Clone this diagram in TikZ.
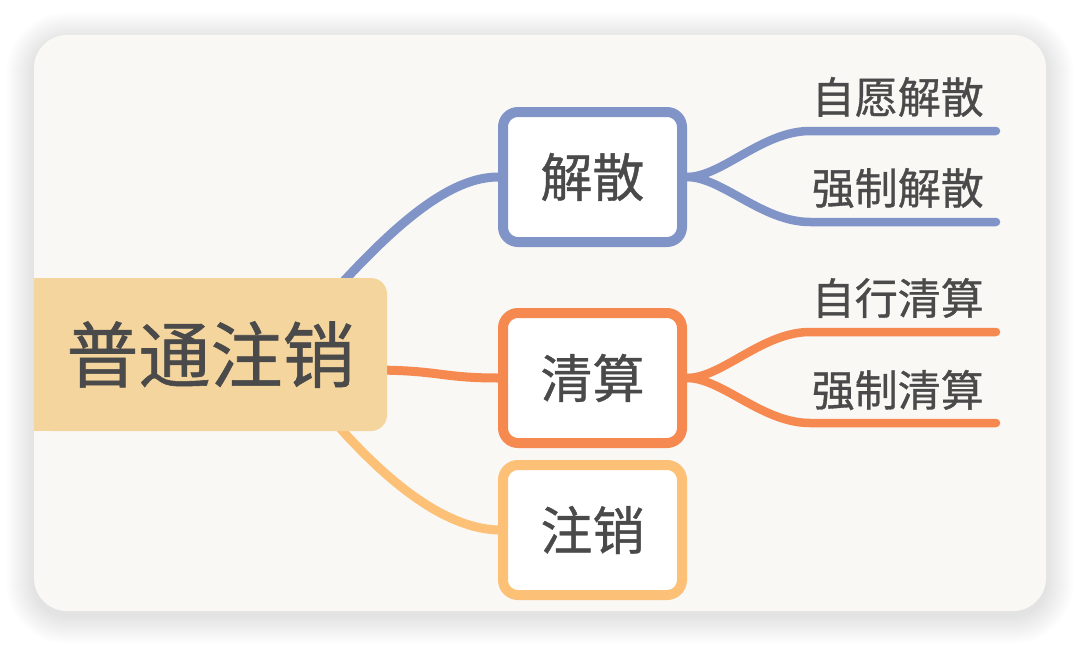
\documentclass[tikz,border=0pt]{standalone}
\usepackage{fontspec}
\newfontfamily\cjk{Noto Sans CJK SC}[FakeBold=0.8]
\definecolor{cardbg}{HTML}{F9F8F5}
\definecolor{rootfill}{HTML}{F5D59E}
\definecolor{blueC}{HTML}{8094C8}
\definecolor{orangeC}{HTML}{F5894F}
\definecolor{yellowC}{HTML}{FDC077}
\definecolor{txt}{HTML}{4A4A4A}
\pgfdeclarelayer{back}
\pgfdeclarelayer{mid}
\pgfsetlayers{back,mid,main}
\tikzset{
  conn/.style={line width=9pt, line cap=round},
  subconn/.style={line width=8.5pt, line cap=round},
  catbox/.style={draw, line width=10pt, fill=white, rounded corners=15pt,
    minimum width=179pt, minimum height=130pt, inner sep=0pt,
    text=txt, font=\cjk\fontsize{52}{60}\selectfont},
  rootbox/.style={fill=rootfill, rounded corners=16pt, minimum width=353pt,
    minimum height=153pt, inner sep=0pt, text=txt,
    font=\cjk\fontsize{72}{80}\selectfont},
  leaf/.style={anchor=east, inner sep=0pt, text=txt,
    font=\cjk\fontsize{43}{50}\selectfont}
}
\begin{document}
\begin{tikzpicture}[x=1pt,y=-1pt]
\useasboundingbox (0,0) rectangle (1080,646);
\begin{pgfonlayer}{back}
\fill[white] (0,0) rectangle (1080,646);
\foreach \i in {1,...,28}{
  \fill[black, opacity=0.005, rounded corners={33+\i}] (34-\i,35-\i+5) rectangle (1046+\i,611+\i+5);
}
\fill[cardbg, rounded corners=33pt] (34,35) rectangle (1046,611);
\end{pgfonlayer}

\node[rootbox] (root) at (210.5,354.5) {普通注销};
\fill[rootfill] (root.north west) rectangle ([xshift=20pt]root.south west);

\node[catbox, draw=blueC] (jie) at (592.5,177) {解散};
\node[catbox, draw=orangeC] (qing) at (592.5,378) {清算};
\node[catbox, draw=yellowC] (zhu) at (592.5,530) {注销};

\node[leaf] (l1) at (984,97) {自愿解散};
\node[leaf] (l2) at (984,188) {强制解散};
\node[leaf] (l3) at (984,298) {自行清算};
\node[leaf] (l4) at (984,390) {强制清算};

\coordinate (e1) at (996,131);
\coordinate (e2) at (996,222);
\coordinate (e3) at (996,332);
\coordinate (e4) at (996,423);

\begin{pgfonlayer}{mid}
\draw[conn, blueC] (root.center) -- (300,330) .. controls (370,250) and (438,177) .. (jie.west);
\draw[conn, orangeC] (root.center) -- (370,370) .. controls (440,370) and (440,378) .. (qing.west);
\draw[conn, yellowC] (root.center) -- (300,380) .. controls (370,470) and (438,528) .. (zhu.west);

\draw[subconn, blueC] (jie.east) .. controls (722,177) and (762,131) .. (810,131) -- (e1);
\draw[subconn, blueC] (jie.east) .. controls (722,177) and (762,222) .. (810,222) -- (e2);
\draw[subconn, orangeC] (qing.east) .. controls (722,378) and (762,332) .. (810,332) -- (e3);
\draw[subconn, orangeC] (qing.east) .. controls (722,378) and (762,423) .. (810,423) -- (e4);
\end{pgfonlayer}
\end{tikzpicture}
\end{document}
